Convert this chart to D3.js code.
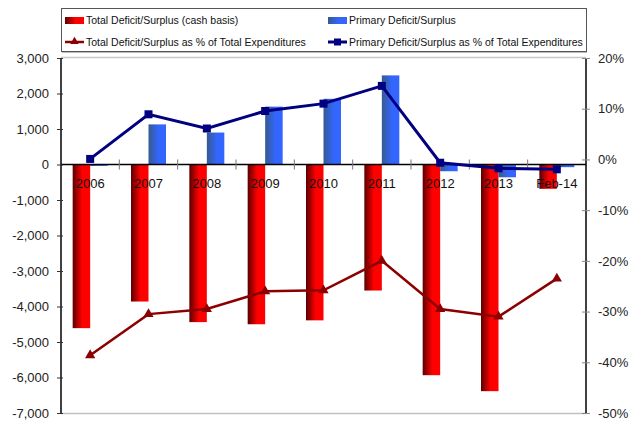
<!DOCTYPE html>
<html>
<head>
<meta charset="utf-8">
<script src="https://cdn.jsdelivr.net/npm/d3@7"></script>
<style>
  html, body { margin: 0; padding: 0; background: #fff; }
  svg { display: block; font-family: "Liberation Sans", Arial, Helvetica, sans-serif; }
</style>
</head>
<body>
<svg id="chart" width="639" height="423"></svg>
<script>
const categories = ["2006", "2007", "2008", "2009", "2010", "2011", "2012", "2013", "Feb-14"];
const totalDeficit = [-4610, -3860, -4440, -4500, -4390, -3550, -5935, -6385, -685];
const primaryDeficit = [-40, 1130, 900, 1630, 1850, 2510, -190, -360, -75];
const totalPct = [-38.6, -30.5, -29.5, -26.0, -25.8, -20.0, -29.5, -31.0, -23.5];
const primaryPct = [0.1, 8.9, 6.1, 9.55, 11.0, 14.5, -0.65, -1.75, -1.95];
const leftTicks = [3000, 2000, 1000, 0, -1000, -2000, -3000, -4000, -5000, -6000, -7000];
const rightTicks = [20, 10, 0, -10, -20, -30, -40, -50];
const seriesNames = ["Total Deficit/Surplus (cash basis)", "Primary Deficit/Surplus",
  "Total Deficit/Surplus as % of Total Expenditures", "Primary Deficit/Surplus as % of Total Expenditures"];

const svg = d3.select("#chart");
const L = 61, R = 586, T = 58, B = 413;
const loc = d3.formatLocale({decimal: ".", thousands: ",", grouping: [3], currency: ["", ""], minus: "-"});
const fmtL = loc.format(",");

const x = d3.scaleBand().domain(categories).range([L, R]);
const xs = d3.scaleBand().domain(["total", "primary"]).range([0, x.bandwidth()]).paddingOuter(0.667);
const yL = d3.scaleLinear().domain([-7000, 3000]).range([B, T]);
const yR = d3.scaleLinear().domain([-50, 20]).range([B, T]);

const defs = svg.append("defs");
const gr = defs.append("linearGradient").attr("id", "gRed");
gr.append("stop").attr("offset", "0%").attr("stop-color", "#5a0000");
gr.append("stop").attr("offset", "55%").attr("stop-color", "#ff0000");
gr.append("stop").attr("offset", "100%").attr("stop-color", "#ff0000");
const gb = defs.append("linearGradient").attr("id", "gBlue");
gb.append("stop").attr("offset", "0%").attr("stop-color", "#365a90");
gb.append("stop").attr("offset", "60%").attr("stop-color", "#3366ff");
gb.append("stop").attr("offset", "100%").attr("stop-color", "#3366ff");

// plot frame lines (top and bottom grey)
svg.append("line").attr("x1", L).attr("x2", R).attr("y1", T - 0.5).attr("y2", T - 0.5).attr("stroke", "#c8c8c8").attr("stroke-width", 1.5);
svg.append("line").attr("x1", L).attr("x2", R).attr("y1", B + 0.5).attr("y2", B + 0.5).attr("stroke", "#c0c0c0").attr("stroke-width", 1.5);

// legend box
svg.append("rect").attr("x", 61.5).attr("y", 8.5).attr("width", 525).attr("height", 43).attr("fill", "#fff").attr("stroke", "#555").attr("stroke-width", 1);
svg.append("line").attr("x1", 62).attr("x2", 587).attr("y1", 52.5).attr("y2", 52.5).attr("stroke", "#bbb");

// bars
const gTot = svg.append("g");
gTot.selectAll("rect").data(totalDeficit).join("rect")
  .attr("x", (d, i) => x(categories[i]) + xs("total"))
  .attr("width", xs.bandwidth())
  .attr("y", d => yL(Math.max(0, d)))
  .attr("height", d => Math.abs(yL(d) - yL(0)))
  .attr("fill", "url(#gRed)");
const gPri = svg.append("g");
gPri.selectAll("rect").data(primaryDeficit).join("rect")
  .attr("x", (d, i) => x(categories[i]) + xs("primary"))
  .attr("width", xs.bandwidth())
  .attr("y", d => yL(Math.max(0, d)))
  .attr("height", d => Math.max(1, Math.abs(yL(d) - yL(0))))
  .attr("fill", "url(#gBlue)");

// zero line & category ticks
svg.append("line").attr("x1", L).attr("x2", R).attr("y1", yL(0)).attr("y2", yL(0)).attr("stroke", "#000").attr("stroke-width", 1.3);
svg.append("g").selectAll("line").data(categories.slice(1)).join("line")
  .attr("x1", d => x(d)).attr("x2", d => x(d))
  .attr("y1", yL(0) - 5).attr("y2", yL(0) + 5)
  .attr("stroke", "#777").attr("stroke-width", 1);

// left axis
const axL = svg.append("g").attr("transform", `translate(${L},0)`)
  .call(d3.axisLeft(yL).tickValues(leftTicks).tickFormat(fmtL).tickSize(4).tickPadding(8));
axL.select(".domain").attr("d", `M0,${T}V${B}`).attr("stroke", "#000").attr("stroke-width", 1.5);
axL.selectAll(".tick line").attr("x1", 2).attr("stroke", "#333");
axL.selectAll(".tick text").attr("font-size", 13).attr("fill", "#222").attr("font-family", "Liberation Sans, Arial, sans-serif");

// right axis
const axR = svg.append("g").attr("transform", `translate(${R},0)`)
  .call(d3.axisRight(yR).tickValues(rightTicks).tickFormat(d => d + "%").tickSize(4).tickPadding(8));
axR.select(".domain").attr("d", `M0,${T}V${B}`).attr("stroke", "#000").attr("stroke-width", 1.5);
axR.selectAll(".tick line").attr("x1", -4).attr("stroke", "#888");
axR.selectAll(".tick text").attr("font-size", 13).attr("fill", "#222").attr("font-family", "Liberation Sans, Arial, sans-serif");

// category labels
svg.append("g").selectAll("text").data(categories).join("text")
  .attr("x", d => x(d) + x.bandwidth() / 2)
  .attr("y", yL(0) + 23)
  .attr("text-anchor", "middle")
  .attr("font-size", 13).attr("fill", "#111")
  .text(d => d);

// lines
const cx = (i) => x(categories[i]) + x.bandwidth() / 2;
const lineTot = d3.line().x((d, i) => cx(i)).y(d => yR(d));
svg.append("path").datum(totalPct).attr("d", lineTot).attr("fill", "none").attr("stroke", "#8b0000").attr("stroke-width", 2.5);
svg.append("g").selectAll("path").data(totalPct).join("path")
  .attr("transform", (d, i) => `translate(${cx(i)},${yR(d)})`)
  .attr("d", d3.symbol(d3.symbolTriangle, 45)())
  .attr("fill", "#8b0000");

svg.append("path").datum(primaryPct).attr("d", lineTot).attr("fill", "none").attr("stroke", "#000080").attr("stroke-width", 3);
svg.append("g").selectAll("rect").data(primaryPct).join("rect")
  .attr("x", (d, i) => cx(i) - 4).attr("y", d => yR(d) - 4)
  .attr("width", 8).attr("height", 8)
  .attr("fill", "#000080");

// legend entries
const lg = svg.append("g").attr("font-size", 10.5).attr("fill", "#111");
lg.append("rect").attr("x", 65).attr("y", 17).attr("width", 19).attr("height", 7).attr("fill", "url(#gRed)");
lg.append("text").attr("x", 86).attr("y", 24).text(seriesNames[0]);
lg.append("rect").attr("x", 328).attr("y", 17).attr("width", 19).attr("height", 7).attr("fill", "url(#gBlue)");
lg.append("text").attr("x", 349).attr("y", 24).text(seriesNames[1]);
lg.append("line").attr("x1", 65).attr("x2", 84).attr("y1", 42).attr("y2", 42).attr("stroke", "#8b0000").attr("stroke-width", 2.5);
lg.append("path").attr("transform", "translate(74.5,41.5)").attr("d", d3.symbol(d3.symbolTriangle, 30)()).attr("fill", "#8b0000");
lg.append("text").attr("x", 86).attr("y", 45.5).text(seriesNames[2]);
lg.append("line").attr("x1", 328).attr("x2", 347).attr("y1", 42).attr("y2", 42).attr("stroke", "#000080").attr("stroke-width", 3);
lg.append("rect").attr("x", 334).attr("y", 38.5).attr("width", 7).attr("height", 7).attr("fill", "#000080");
lg.append("text").attr("x", 349).attr("y", 45.5).text(seriesNames[3]);
</script>
</body>
</html>
